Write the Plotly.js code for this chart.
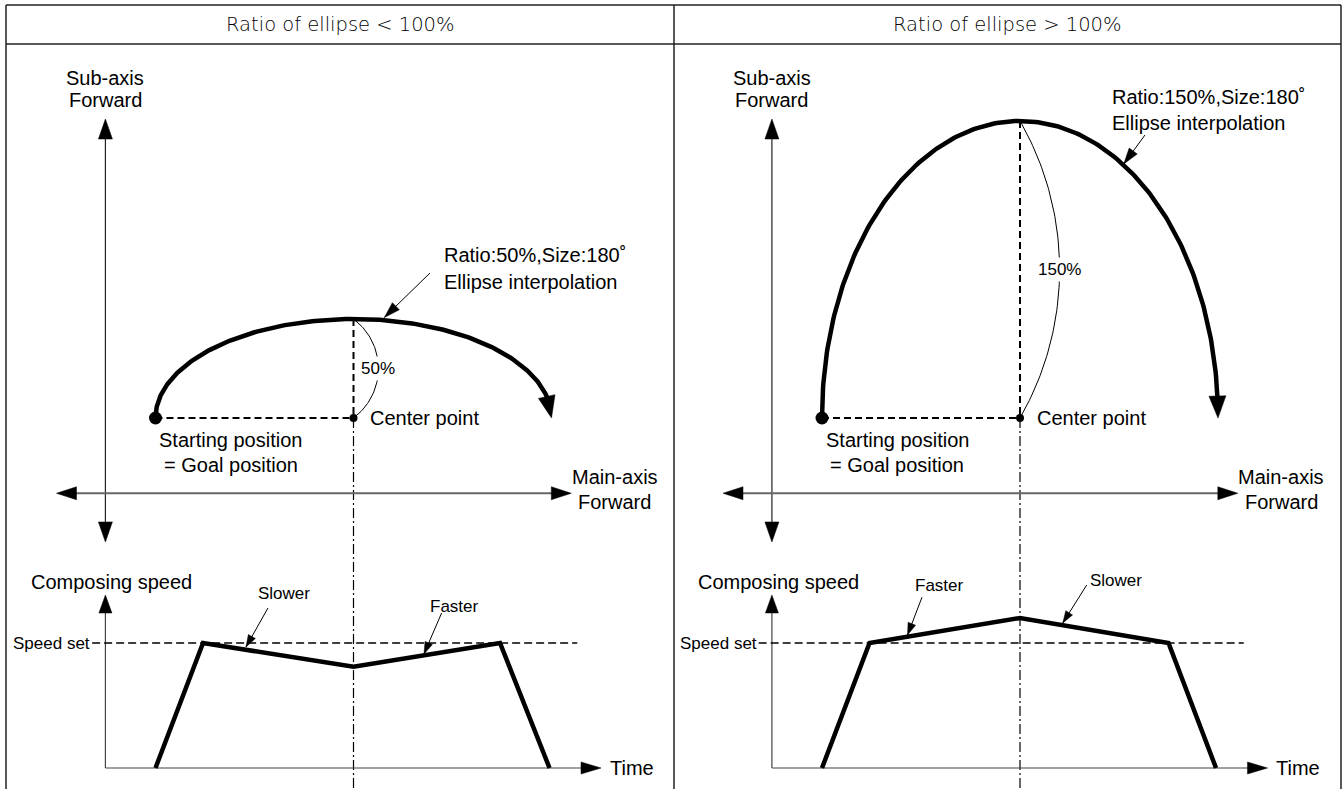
<!DOCTYPE html>
<html>
<head>
<meta charset="utf-8">
<script src="https://cdn.plot.ly/plotly-3.0.1.min.js"></script>
<style>
html,body{margin:0;padding:0;background:#fff;}
#chart{width:1343px;height:789px;}
</style>
</head>
<body>
<div id="chart"></div>
<script>
// ------------------------- DATA -------------------------
const panelTitles = ["Ratio of ellipse < 100%", "Ratio of ellipse > 100%"];
const ellipseRatio = [50, 150];            // sub-axis radius, % of main-axis radius
const ellipseSizeDeg = [180, 180];         // interpolation size (degrees)
const ellipseLabel1 = ["Ratio:50%,Size:180˚", "Ratio:150%,Size:180˚"];
const ellipseLabel2 = ["Ellipse interpolation", "Ellipse interpolation"];
const ratioLabels = ["50%", "150%"];
const mainRadius = 100;                    // main-axis units from centre to start point
const timeL = [-100, -76, 0, 74, 99];      // composing-speed profile, left panel
const speedL = [0, 100, 81, 100, 0];       // % of speed set
const timeR = [-100, -76, 0, 75, 99];      // composing-speed profile, right panel
const speedR = [0, 100, 120, 100, 0];
const speedSet = 100;
const noteTextL = ["Slower", "Faster"];
const noteTextR = ["Faster", "Slower"];

// ------------------------- LAYOUT CONSTANTS -------------------------
const W = 1343, H = 789;
const K = 1.98;             // px per main-axis unit
const CY = 418;             // px row of the ellipse centre
const S0 = 768;             // px row of zero speed
const KS = 1.25;            // px per speed %
const CX = [353.5, 1020];   // px column of the ellipse centres
const DIV = 674;
const FONT = "Liberation Sans, Arial, Helvetica, sans-serif";

const traces = [];
const annotations = [];

function line(xa, ya, xs, ys, width, color, dash) {
  traces.push({type: 'scatter', mode: 'lines', xaxis: xa, yaxis: ya, x: xs, y: ys,
    line: {width: width, color: color, dash: dash || 'solid'},
    hoverinfo: 'skip', showlegend: false});
}
function head(xa, ya, ky, tip, from, len, wid) {
  const dx = (tip[0] - from[0]) * K, dy = (tip[1] - from[1]) * ky;
  const n = Math.hypot(dx, dy), ux = dx / n, uy = dy / n;
  const bx = -ux * len, by = -uy * len, px = -uy * wid / 2, py = ux * wid / 2;
  const pts = [[0, 0], [bx + px, by + py], [bx - px, by - py], [0, 0]];
  traces.push({type: 'scatter', mode: 'lines', xaxis: xa, yaxis: ya,
    x: pts.map(q => tip[0] + q[0] / K), y: pts.map(q => tip[1] + q[1] / ky),
    fill: 'toself', fillcolor: '#000', line: {width: 0.5, color: '#000'},
    hoverinfo: 'skip', showlegend: false});
}
function dot(xa, ya, x, y, size) {
  traces.push({type: 'scatter', mode: 'markers', xaxis: xa, yaxis: ya, x: [x], y: [y],
    marker: {size: size, color: '#000'}, hoverinfo: 'skip', showlegend: false});
}
function label(text, xref, yref, x, y, size, opts) {
  annotations.push(Object.assign({text: text, xref: xref, yref: yref, x: x, y: y,
    showarrow: false, font: {family: FONT, size: size, color: '#000'},
    xanchor: 'center', yanchor: 'middle'}, opts || {}));
}

// per-panel placement constants (main-axis units / speed %)
const AX = -125.3;                 // sub-axis & speed-axis column
const SUB_TOP = 151, SUB_BOT = -62.6;
const MAIN_Y = -38, MAIN_L = -150, MAIN_R = 110;
const TIME_TIP = 125, SPEED_TIP = 138.4;
const dimBulge = [12.6, 20];
const lblX = [44.7, 45.5], lblY1 = [82.3, 161.9], lblY2 = [68.9, 149.2];
const leadTail = [[38.6, 73.2], [63.1, 142.9]], leadTip = [[15.6, 50.8], [52.4, 128.3]];
const notePos = [[[-35.1, 140], [51, 129.6]], [[-40.6, 146.4], [48.5, 150.4]]];
const noteTail = [[[-43.2, 128], [44.5, 124]], [[-49.5, 136.6], [33.7, 146.4]]];
const noteTip = [[[-54.3, 96.8], [35.6, 91.2]], [[-56.8, 106.4], [21.6, 116]]];

for (let p = 0; p < 2; p++) {
  const xa = p === 0 ? 'x' : 'x2', ym = p === 0 ? 'y' : 'y3', ys = p === 0 ? 'y2' : 'y4';
  const xr = xa, ymr = ym, ysr = ys;
  const b = mainRadius * ellipseRatio[p] / 100;
  const time = p === 0 ? timeL : timeR, speed = p === 0 ? speedL : speedR;
  const notes = p === 0 ? noteTextL : noteTextR;

  // centre line: dashed above centre, dash-dot below
  line(xa, ym, [0, 0], [b, 0], 2, '#000', '7px,4px');
  line(xa, ym, [0, 0], [0, -200], 1.2, '#000', '10px,3px,2px,3px');
  // start -> centre dashed
  line(xa, ym, [-mainRadius, 0], [0, 0], 2, '#000', '7px,4px');

  // sub-axis double arrow
  line(xa, ym, [AX, AX], [SUB_BOT + 10 / K, SUB_TOP - 10 / K], 1.2, '#222');
  head(xa, ym, K, [AX, SUB_TOP], [AX, 0], 20, 14);
  head(xa, ym, K, [AX, SUB_BOT], [AX, 0], 20, 14);
  // main-axis double arrow
  line(xa, ym, [MAIN_L + 10 / K, MAIN_R - 10 / K], [MAIN_Y, MAIN_Y], 2, '#666');
  head(xa, ym, K, [MAIN_R, MAIN_Y], [0, MAIN_Y], 20, 13);
  head(xa, ym, K, [MAIN_L, MAIN_Y], [0, MAIN_Y], 20, 13);

  // ellipse
  const n = 241, th0 = Math.PI, th1 = Math.PI - ellipseSizeDeg[p] * Math.PI / 180;
  const ex = [], ey = [];
  for (let i = 0; i < n; i++) {
    const t = th0 + (th1 - th0) * i / (n - 1);
    ex.push(mainRadius * Math.cos(t)); ey.push(b * Math.sin(t));
  }
  const tip = [ex[n - 1], ey[n - 1]];
  const distPx = i => Math.hypot((ex[i] - tip[0]) * K, (ey[i] - tip[1]) * K);
  let cut = n - 1; while (cut > 0 && distPx(cut) < 14) cut--;
  let fromI = n - 1; while (fromI > 0 && distPx(fromI) < 22) fromI--;
  line(xa, ym, ex.slice(0, cut + 1), ey.slice(0, cut + 1), 4.5, '#000');
  head(xa, ym, K, tip, [ex[fromI], ey[fromI]], 22, 17);

  // dimension arc
  const c = b / 2, s = dimBulge[p], R = (c * c + s * s) / (2 * s), phi0 = Math.asin(c / R), xc = s - R;
  const axs = [], ays = [];
  for (let i = 0; i < 80; i++) {
    const f = -phi0 + 2 * phi0 * i / 79;
    axs.push(xc + R * Math.cos(f)); ays.push(c + R * Math.sin(f));
  }
  line(xa, ym, axs, ays, 1, '#000');
  label(ratioLabels[p], xr, ymr, s, c, 17, {bgcolor: '#fff', borderpad: 2});

  // dots
  dot(xa, ym, -mainRadius, 0, 13);
  dot(xa, ym, 0, 0, 8);

  // ellipse leader
  line(xa, ym, [leadTail[p][0], leadTip[p][0]], [leadTail[p][1], leadTip[p][1]], 1, '#000');
  head(xa, ym, K, leadTip[p], leadTail[p], 16, 10);

  // speed diagram
  line(xa, ys, [AX, AX], [0, SPEED_TIP - 9 / KS], 1.2, '#444');
  head(xa, ys, KS, [AX, SPEED_TIP], [AX, 0], 18, 13);
  line(xa, ys, [AX, TIME_TIP - 10 / K], [0, 0], 1.2, '#444');
  head(xa, ys, KS, [TIME_TIP, 0], [0, 0], 20, 12);
  line(xa, ys, [-132, 113], [speedSet, speedSet], 1.3, '#000', '8px,4px');
  line(xa, ys, time, speed, 4.5, '#000');
  for (let k = 0; k < 2; k++) {
    line(xa, ys, [noteTail[p][k][0], noteTip[p][k][0]], [noteTail[p][k][1], noteTip[p][k][1]], 1, '#000');
    head(xa, ys, KS, noteTip[p][k], noteTail[p][k], 12, 8);
    label(notes[k], xr, ysr, notePos[p][k][0], notePos[p][k][1], 17);
  }

  // texts
  label('Sub-axis', xr, ymr, AX, (CY - 78) / K, 20);
  label('Forward', xr, ymr, AX, (CY - 100) / K, 20);
  label('Main-axis', xr, ymr, 132, (CY - 477) / K, 20);
  label('Forward', xr, ymr, 132, (CY - 502) / K, 20);
  label('Starting position', xr, ymr, -62, (CY - 440) / K, 20);
  label('= Goal position', xr, ymr, -62, (CY - 465) / K, 20);
  label('Center point', xr, ymr, 7.5, 0, 20, {xanchor: 'left'});
  label(ellipseLabel1[p], xr, ymr, lblX[p], lblY1[p], 20, {xanchor: 'left'});
  label(ellipseLabel2[p], xr, ymr, lblX[p], lblY2[p], 20, {xanchor: 'left'});
  label('Composing speed', xr, ysr, -122, (S0 - 582) / KS, 20);
  label('Speed set', xr, ysr, -132, speedSet, 17, {xanchor: 'right'});
  label('Time', xr, ysr, 140.5, 0, 20);
}

// header titles
label(panelTitles[0], 'paper', 'paper', 340 / W, 1 - 24.5 / H, 19.5,
  {font: {family: 'DejaVu Sans, sans-serif', size: 19.5, color: '#000', weight: 300}});
label(panelTitles[1], 'paper', 'paper', 1007.5 / W, 1 - 24.5 / H, 19.5,
  {font: {family: 'DejaVu Sans, sans-serif', size: 19.5, color: '#000', weight: 300}});

// table frame
const fl = {color: '#222', width: 1.5};
const px = v => v / W, py = v => 1 - v / H;
const shapes = [
  {type: 'line', xref: 'paper', yref: 'paper', x0: px(6), x1: px(1341), y0: py(5), y1: py(5), line: fl},
  {type: 'line', xref: 'paper', yref: 'paper', x0: px(6), x1: px(1341), y0: py(44), y1: py(44), line: fl},
  {type: 'line', xref: 'paper', yref: 'paper', x0: px(6), x1: px(6), y0: py(5), y1: py(789), line: fl},
  {type: 'line', xref: 'paper', yref: 'paper', x0: px(DIV), x1: px(DIV), y0: py(5), y1: py(789), line: fl},
  {type: 'line', xref: 'paper', yref: 'paper', x0: px(1341), x1: px(1341), y0: py(5), y1: py(789), line: fl}
];

const noAx = {visible: false, fixedrange: true, showgrid: false, zeroline: false};
const layout = {
  width: W, height: H,
  margin: {l: 0, r: 0, t: 0, b: 0, pad: 0},
  paper_bgcolor: '#fff', plot_bgcolor: 'rgba(0,0,0,0)',
  showlegend: false,
  xaxis: Object.assign({}, noAx, {domain: [0, DIV / W], range: [(0 - CX[0]) / K, (DIV - CX[0]) / K], anchor: 'y'}),
  xaxis2: Object.assign({}, noAx, {domain: [DIV / W, 1], range: [(DIV - CX[1]) / K, (W - CX[1]) / K], anchor: 'y3'}),
  yaxis: Object.assign({}, noAx, {domain: [0, 1], range: [(CY - H) / K, CY / K], anchor: 'x'}),
  yaxis2: Object.assign({}, noAx, {overlaying: 'y', range: [(S0 - H) / KS, S0 / KS], anchor: 'x'}),
  yaxis3: Object.assign({}, noAx, {domain: [0, 1], range: [(CY - H) / K, CY / K], anchor: 'x2'}),
  yaxis4: Object.assign({}, noAx, {overlaying: 'y3', range: [(S0 - H) / KS, S0 / KS], anchor: 'x2'}),
  annotations: annotations,
  shapes: shapes
};

Plotly.newPlot('chart', traces, layout, {staticPlot: true, displayModeBar: false});
</script>
</body>
</html>
